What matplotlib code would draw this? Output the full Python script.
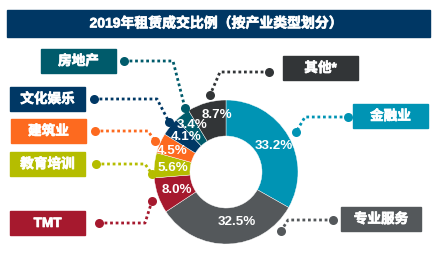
import matplotlib
matplotlib.use("Agg")
import matplotlib.pyplot as plt
from matplotlib.patches import Rectangle
import matplotlib.patheffects as pe

plt.rcParams['font.family'] = ['Liberation Sans', 'Noto Sans CJK SC', 'DejaVu Sans']

# ---- data ----
title = "2019年租赁成交比例（按产业类型划分）"
categories = ["金融业", "专业服务", "TMT", "教育培训", "建筑业", "文化娱乐", "房地产", "其他*"]
shares = [33.2, 32.5, 8.0, 5.6, 4.5, 4.1, 3.4, 8.7]
colors = ["#0094b4", "#54585b", "#a6192e", "#b5bd00", "#fd6a1f", "#003865", "#005b6b", "#323537"]

W, H = 438, 262
fig = plt.figure(figsize=(W / 100, H / 100), dpi=100)
ax = fig.add_axes([0, 0, 1, 1])

def Y(y):
    return H - y

bold = [pe.withStroke(linewidth=0.5, foreground="white")]

cx, cy, R = 226, 172, 72
ax.pie(shares, colors=colors, startangle=90, counterclock=False,
       center=(cx, Y(cy)), radius=R,
       wedgeprops=dict(width=R * 0.5, edgecolor="white", linewidth=0.3))
ax.set_xlim(0, W)
ax.set_ylim(0, H)
ax.set_aspect("equal")
ax.axis("off")

# title bar
ax.add_patch(Rectangle((7, Y(37)), 423, 27, color="#003764", zorder=1))
ax.text(216, Y(23.5), title, color="white", fontsize=10, fontweight="bold",
        ha="center", va="center", zorder=2, path_effects=bold)

# percent labels (pixel positions)
pct_pos = [(274, 146), (237, 222), (177, 190), (173, 168), (172, 151),
           (186, 137), (192, 125), (217, 115)]
for v, (px, py) in zip(shares, pct_pos):
    ax.text(px, Y(py), f"{v:.1f}%", color="white", fontsize=9.6, fontweight="bold",
            ha="center", va="center", zorder=5)

# category boxes: (x0, y0, x1, y1)
boxes = [(353, 104, 428, 128), (341, 207, 421, 231), (10, 211, 85, 235),
         (10, 152, 85, 176), (11, 119, 86, 143), (10, 87, 85, 111),
         (41, 49, 116, 73), (283, 56, 358, 80)]
# connector paths: box-end dot -> corner -> slice-end dot
paths = [[(348, 117), (305, 117), (296, 132)],
         [(333, 220), (288, 220), (281, 231)],
         [(99, 223), (145, 223), (152, 201)],
         [(96, 164), (145, 164), (152, 174)],
         [(95, 131), (148, 131), (155, 141)],
         [(94, 99), (157, 99), (169, 122)],
         [(124, 61), (173, 61), (185, 108)],
         [(269, 72), (220, 72), (210, 95)]]

for cat, col, (x0, y0, x1, y1), path in zip(categories, colors, boxes, paths):
    ax.add_patch(Rectangle((x0, Y(y1)), x1 - x0, y1 - y0, color=col, zorder=3))
    ax.text((x0 + x1) / 2, Y((y0 + y1) / 2), cat, color="white", fontsize=9.8,
            fontweight="bold", ha="center", va="center", zorder=4, path_effects=bold)
    xs = [p[0] for p in path]
    ys = [Y(p[1]) for p in path]
    ax.plot(xs, ys, color=col, linewidth=2, linestyle=(0, (1, 1)),
            solid_capstyle="butt", zorder=3)
    ax.plot([xs[0], xs[-1]], [ys[0], ys[-1]], "o", color=col, markersize=6.5,
            markeredgewidth=0, zorder=4)

fig.savefig("out.png", dpi=100)
